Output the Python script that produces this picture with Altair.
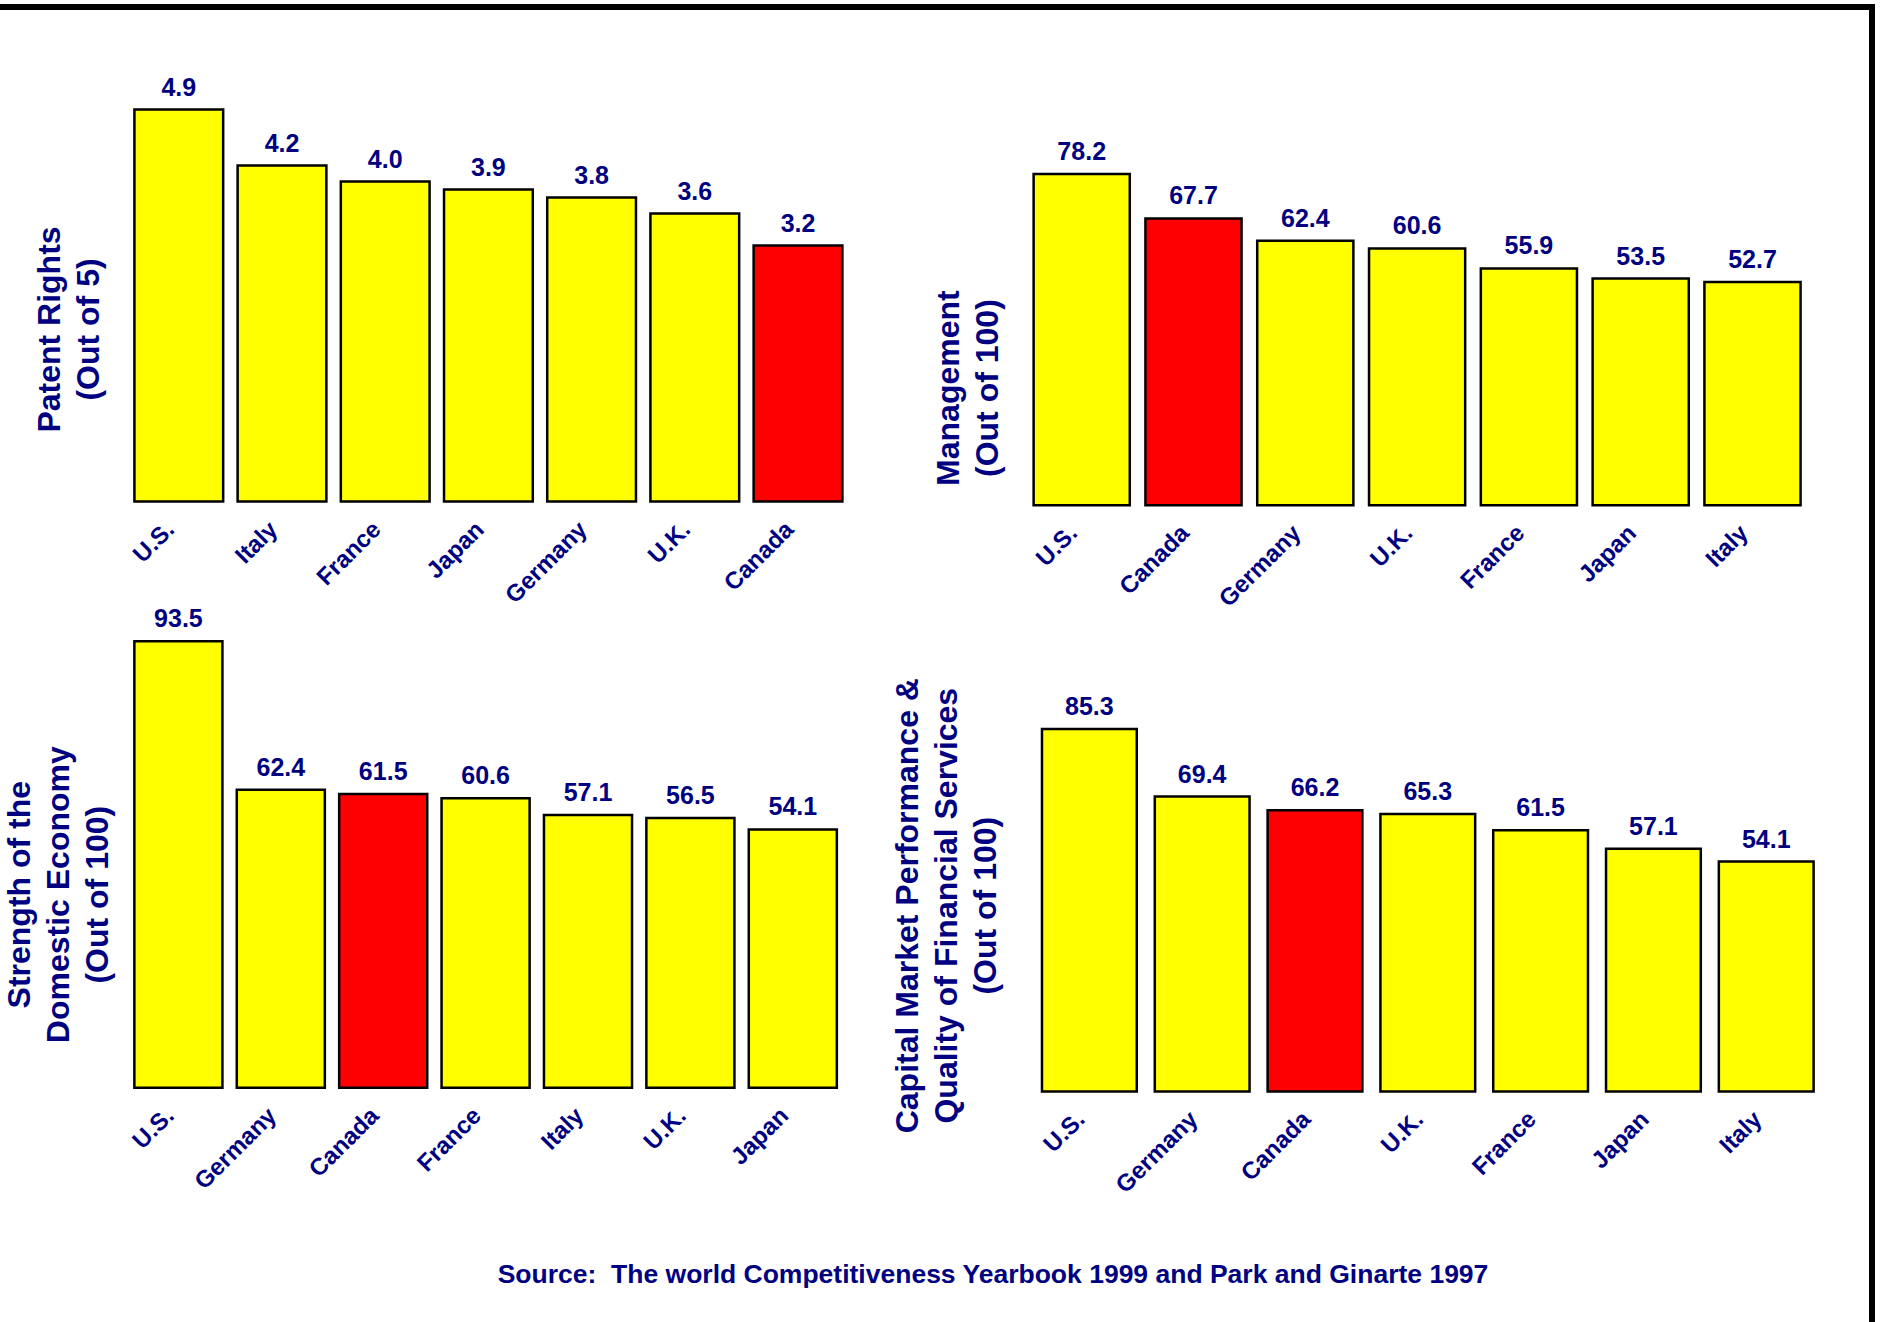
import altair as alt
import pandas as pd

# --- data -------------------------------------------------------------
patent_countries = ["U.S.", "Italy", "France", "Japan", "Germany", "U.K.", "Canada"]
patent_values = [4.9, 4.2, 4.0, 3.9, 3.8, 3.6, 3.2]

mgmt_countries = ["U.S.", "Canada", "Germany", "U.K.", "France", "Japan", "Italy"]
mgmt_values = [78.2, 67.7, 62.4, 60.6, 55.9, 53.5, 52.7]

economy_countries = ["U.S.", "Germany", "Canada", "France", "Italy", "U.K.", "Japan"]
economy_values = [93.5, 62.4, 61.5, 60.6, 57.1, 56.5, 54.1]

capital_countries = ["U.S.", "Germany", "Canada", "U.K.", "France", "Japan", "Italy"]
capital_values = [85.3, 69.4, 66.2, 65.3, 61.5, 57.1, 54.1]

source_note = "Source:\u00a0 The world Competitiveness Yearbook 1999 and Park and Ginarte 1997"

NAVY = "#000080"
FONT = "Liberation Sans"


def panel(countries, values, title, width, height, ymax, title_x, title_y,
          pad_inner=0.14, pad_outer=0.07, band_align=0.5):
    df = pd.DataFrame({"country": countries, "value": values})
    base = alt.Chart(df).encode(
        x=alt.X(
            "country:N",
            sort=countries,
            scale=alt.Scale(paddingInner=pad_inner, paddingOuter=pad_outer,
                            align=band_align),
            axis=alt.Axis(
                title=None,
                domain=False,
                ticks=False,
                labelAngle=-45,
                labelAlign="right",
                labelBaseline="middle",
                labelPadding=24,
                labelOffset=-8,
                labelFont=FONT,
                labelFontSize=24,
                labelFontWeight="bold",
                labelColor=NAVY,
            ),
        ),
        y=alt.Y(
            "value:Q",
            scale=alt.Scale(domain=[0, ymax], nice=False, zero=True),
            axis=alt.Axis(
                title=title,
                labels=False,
                ticks=False,
                domain=False,
                grid=False,
                titleFont=FONT,
                titleFontSize=32,
                titleFontWeight="bold",
                titleColor=NAVY,
                titleLineHeight=39,
                titleAngle=270,
                titleAlign="center",
                titleBaseline="top",
                titleX=title_x,
                titleY=title_y,
            ),
        ),
    )
    bars = base.mark_bar(stroke="black", strokeWidth=2.5).encode(
        color=alt.condition(
            alt.datum.country == "Canada", alt.value("#FF0000"), alt.value("#FFFF00")
        )
    )
    labels = base.mark_text(
        baseline="alphabetic",
        dy=-14,
        font=FONT,
        fontSize=25,
        fontWeight="bold",
        color=NAVY,
    ).encode(text=alt.Text("value:Q", format=".1f"))
    return alt.layer(bars, labels).properties(width=width, height=height)


one_row = pd.DataFrame({"k": [0]})

# frame along the top and right edges of the page
frame_top = alt.Chart(one_row).mark_rule(color="black", strokeWidth=6).encode(
    x=alt.value(-127.2), x2=alt.value(1747.8), y=alt.value(-74.6)
)
frame_right = alt.Chart(one_row).mark_rule(color="black", strokeWidth=6).encode(
    x=alt.value(1744.8), y=alt.value(-77.6), y2=alt.value(1240.4)
)

p1 = alt.layer(
    panel(patent_countries, patent_values, ["Patent Rights", "(Out of 5)"],
          722.4, 420, 5.25, -93, 247.4),
    frame_top,
    frame_right,
)
p2 = panel(mgmt_countries, mgmt_values, ["Management", "(Out of 100)"],
           782.6, 423.6, 100, -92, 306)

source = alt.Chart(one_row).mark_text(
    font=FONT, fontSize=26.5, fontWeight="bold", color=NAVY,
    align="center", baseline="alphabetic",
).encode(x=alt.value(865.8), y=alt.value(673), text=alt.value(source_note))

p3 = alt.layer(
    panel(economy_countries, economy_values,
          ["Strength of the", "Domestic Economy", "(Out of 100)"],
          716.8, 477.6, 100, -123, 284),
    source,
)
p4 = panel(capital_countries, capital_values,
           ["Capital Market Performance &", "Quality of Financial Services", "(Out of 100)"],
           795.7, 481.2, 113.28, -133.4, 295,
           pad_inner=0.16, pad_outer=0.1068, band_align=0.672)

chart = (
    alt.concat(p1, p2, p3, p4, columns=2, bounds="flush", align="all",
               spacing=alt.RowColnumber(row=46.6, column=102.6))
    .properties(
        autosize=alt.AutoSizeParams(type="none"),
        padding={"left": 127.2, "top": 81.6, "right": 1753.8, "bottom": 1240.4},
        background="white",
    )
    .configure_view(stroke=None)
)

chart.save("out.html", embed_options={"renderer": "svg", "actions": False})
